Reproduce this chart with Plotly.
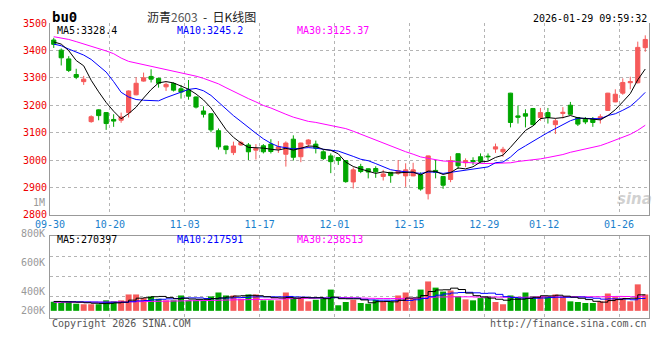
import plotly.graph_objects as go

# ---------------- data ----------------
tick_labels = ["09-30", "10-20", "11-03", "11-17", "12-01", "12-15", "12-29", "01-12", "01-26"]
tick_index = [0, 8, 18, 28, 38, 48, 58, 66, 76]
price_ticks = [2800, 2900, 3000, 3100, 3200, 3300, 3400, 3500]

opens = [3438, 3401, 3369, 3312, 3286, 3140, 3183, 3173, 3148, 3145,
         3173, 3238, 3288, 3305, 3298, 3267, 3279, 3260, 3256, 3230,
         3179, 3169, 3107, 3051, 3027, 3055, 3055, 3036, 3052, 3058,
         3040, 3021, 3076, 3012, 3058, 3058, 3030, 3015, 3009, 2998,
         2920, 2976, 2968, 2969, 2940, 2955, 2952, 2942, 2942, 2946,
         2877, 2962, 2940, 2929, 3023, 2990, 2998, 3012, 3014, 3040,
         3030, 3244, 3161, 3169, 3188, 3155, 3173, 3129, 3170, 3200,
         3155, 3149, 3149, 3150, 3181, 3212, 3244, 3282, 3282, 3410]
highs = [3446, 3407, 3379, 3333, 3307, 3163, 3185, 3175, 3167, 3173,
         3254, 3302, 3319, 3331, 3300, 3283, 3283, 3274, 3292, 3232,
         3196, 3170, 3115, 3052, 3067, 3070, 3062, 3058, 3058, 3076,
         3069, 3068, 3090, 3063, 3076, 3071, 3036, 3024, 3010, 2999,
         2973, 2986, 2969, 2977, 2964, 2956, 3000, 2988, 2990, 2955,
         3016, 3000, 2941, 3014, 3024, 3006, 3010, 3024, 3024, 3060,
         3048, 3245, 3199, 3185, 3190, 3190, 3190, 3152, 3193, 3212,
         3156, 3157, 3157, 3167, 3245, 3258, 3298, 3304, 3432, 3455]
lows = [3409, 3345, 3321, 3295, 3274, 3136, 3145, 3110, 3121, 3136,
        3155, 3236, 3286, 3283, 3264, 3252, 3250, 3224, 3220, 3188,
        3155, 3101, 3038, 3021, 3018, 3052, 3000, 3002, 3024, 3024,
        3026, 2976, 2998, 2992, 3045, 3024, 3000, 2952, 2982, 2917,
        2896, 2952, 2933, 2935, 2925, 2917, 2946, 2902, 2941, 2888,
        2856, 2933, 2895, 2919, 2967, 2974, 2982, 2988, 2998, 3026,
        3012, 3119, 3133, 3119, 3128, 3143, 3133, 3095, 3152, 3166,
        3124, 3131, 3121, 3133, 3179, 3211, 3238, 3258, 3279, 3395]
closes = [3422, 3373, 3327, 3302, 3295, 3158, 3162, 3133, 3142, 3157,
          3252, 3280, 3300, 3295, 3280, 3276, 3255, 3248, 3233, 3193,
          3167, 3110, 3048, 3038, 3051, 3064, 3030, 3042, 3030, 3031,
          3048, 3062, 3010, 3062, 3073, 3043, 3005, 2994, 2998, 2921,
          2964, 2958, 2956, 2957, 2949, 2943, 2961, 2964, 2964, 2894,
          3015, 2955, 2908, 2998, 2979, 2998, 2994, 2995, 3012, 3048,
          3039, 3137, 3156, 3160, 3129, 3173, 3155, 3143, 3174, 3167,
          3131, 3139, 3137, 3158, 3244, 3240, 3283, 3286, 3411, 3440]
volumes = [153000, 137000, 160000, 120000, 111000, 111000, 111000, 177000, 160000, 177000,
           276000, 276000, 215000, 243000, 203000, 177000, 177000, 259000, 177000, 177000,
           177000, 243000, 309000, 259000, 259000, 203000, 276000, 276000, 177000, 177000,
           177000, 309000, 226000, 226000, 160000, 186000, 226000, 358000, 94000, 149000,
           186000, 132000, 120000, 186000, 160000, 160000, 259000, 309000, 203000, 358000,
           495000, 391000, 325000, 342000, 243000, 193000, 177000, 215000, 243000, 149000,
           111000, 259000, 219000, 309000, 243000, 243000, 243000, 276000, 231000, 160000,
           149000, 132000, 132000, 160000, 292000, 231000, 219000, 160000, 446000, 276000]

# moving-average values before enough bars exist in the window
ma5_head = [3431, 3423, 3399, 3363]
ma10_head = [3423, 3417, 3405, 3393, 3383, 3367, 3345, 3321, 3286]
ma30_head = [3450, 3446, 3440, 3432, 3424, 3416, 3408, 3398, 3388, 3372,
             3360, 3354, 3349, 3344, 3338, 3332, 3326, 3320, 3313, 3306,
             3298, 3288, 3278, 3264, 3250, 3237, 3224, 3212, 3199]
vma5_head = [158000, 152000, 150000, 146000]
vma10_head = [155000, 154000, 153000, 152000, 150000, 148000, 146000, 145000, 145000]
vma30_head = [145000, 145000, 145000, 146000, 146000, 147000, 147000, 148000, 149000, 150000,
              152000, 155000, 158000, 160000, 162000, 164000, 166000, 168000, 170000, 172000,
              175000, 177000, 180000, 183000, 186000, 188000, 190000, 192000, 194000]


def moving_avg(vals, n, head):
    out = list(head)
    for i in range(len(head), len(vals)):
        out.append(sum(vals[i - n + 1:i + 1]) / n)
    return out


x = list(range(len(closes)))
ma5 = moving_avg(closes, 5, ma5_head)
ma10 = moving_avg(closes, 10, ma10_head)
ma30 = moving_avg(closes, 30, ma30_head)
vma5 = moving_avg(volumes, 5, vma5_head)
vma10 = moving_avg(volumes, 10, vma10_head)
vma30 = moving_avg(volumes, 30, vma30_head)

RED = "#f65a5a"
GREEN = "#00a600"
vol_colors = [RED if c >= o else GREEN for o, c in zip(opens, closes)]

MONO = "DejaVu Sans Mono"
GRID = "#b4b4b4"
BORDER = "#999999"

fig = go.Figure()
fig.add_trace(go.Candlestick(
    x=x, open=opens, high=highs, low=lows, close=closes,
    increasing=dict(line=dict(color=RED, width=1), fillcolor=RED),
    decreasing=dict(line=dict(color=GREEN, width=1), fillcolor=GREEN),
    xaxis="x", yaxis="y", hoverinfo="skip"))
for vals, col in [(ma30, "#ff00ff"), (ma10, "#0000ff"), (ma5, "#000000")]:
    fig.add_trace(go.Scatter(x=x, y=vals, mode="lines", line=dict(color=col, width=1),
                             xaxis="x", yaxis="y", hoverinfo="skip"))

fig.add_trace(go.Bar(x=x, y=volumes, marker=dict(color=vol_colors, line=dict(width=0)),
                     width=0.8, xaxis="x2", yaxis="y2", hoverinfo="skip"))
for vals, col in [(vma30, "#ff00ff"), (vma10, "#0000ff"), (vma5, "#000000")]:
    fig.add_trace(go.Scatter(x=x, y=vals, mode="lines", line=dict(color=col, width=1, shape="hv"),
                             xaxis="x2", yaxis="y2", hoverinfo="skip"))

tickpos = [i - 0.5 for i in tick_index]

# The page body has an 8px default margin; size the figure so the plot area
# lands at page pixels x 50..649, y 17..318.
BODY = 8
fig.update_layout(
    width=660 - BODY, height=360 - 2 * BODY,
    margin=dict(l=50 - BODY, r=11, t=17 - BODY, b=(360 - 2 * BODY) - (318 - BODY)),
    paper_bgcolor="white", plot_bgcolor="white",
    showlegend=False, hovermode=False,
    boxgap=0.2,
    xaxis=dict(domain=[0, 1], range=[-0.5, len(x) - 0.5], anchor="y",
               tickvals=tickpos, ticktext=tick_labels,
               tickfont=dict(family=MONO, size=10, color="#1a7fcc"),
               showgrid=True, gridcolor=GRID, griddash="dot", gridwidth=1,
               showline=True, linecolor=BORDER, linewidth=1, ticks="",
               zeroline=False, rangeslider=dict(visible=False), fixedrange=True),
    yaxis=dict(domain=[0.3498, 1], range=[2800, 3500], anchor="x",
               tickvals=price_ticks, ticktext=[str(v) for v in price_ticks],
               tickfont=dict(family=MONO, size=10, color="#ee0000"),
               showgrid=True, gridcolor=GRID, griddash="dot", gridwidth=1,
               showline=True, mirror=True, linecolor=BORDER, linewidth=1,
               ticks="", zeroline=False, fixedrange=True),
    xaxis2=dict(domain=[0, 1], range=[-0.5, len(x) - 0.5], anchor="y2",
                tickvals=tickpos, showticklabels=False,
                showgrid=True, gridcolor=GRID, griddash="dot", gridwidth=1,
                showline=True, mirror=True, linecolor=BORDER, linewidth=1,
                ticks="", zeroline=False, fixedrange=True),
    yaxis2=dict(domain=[0, 0.2767], range=[-120500, 1254000], anchor="x2",
                tickvals=[247500, 577500, 907500], showticklabels=False,
                showgrid=True, gridcolor=GRID, griddash="dot", gridwidth=1,
                showline=True, mirror=True, linecolor=BORDER, linewidth=1,
                ticks="", zeroline=False, fixedrange=True),
)


def px(xp):
    return (xp - 50) / 599.0


def py(yp):
    return (318 - yp) / 301.0


ann = []


def add(text, xp, yp, anchor="left", color="#000", size=10, family=MONO):
    ann.append(dict(text=text, x=px(xp), y=py(yp), xref="paper", yref="paper",
                    xanchor=anchor, yanchor="middle", showarrow=False,
                    font=dict(family=family, size=size, color=color)))


add("<b>bu0</b>", 50, 10.5, size=14)
add("沥青<span style='color:#555'>2603</span>&nbsp; -&nbsp; 日K线图", 201, 10.5, anchor="center",
    color="#222", size=12, family="Noto Sans CJK SC")
add("2026-01-29 09:59:32", 649, 12, anchor="right")
add("MA5:3328.4", 55, 24.5, color="#000000")
add("MA10:3245.2", 175, 24.5, color="#0000ff")
add("MA30:3125.37", 295, 24.5, color="#ff00ff")
add("MA5:270397", 55, 237.5, color="#000000")
add("MA10:217591", 175, 237.5, color="#0000ff")
add("MA30:238513", 295, 237.5, color="#ff00ff")
for lab, yp in [("1M", 200), ("800K", 232), ("600K", 261.7), ("400K", 291), ("200K", 310.7)]:
    add(lab, 47, yp, anchor="right", color="#999999")
add("Copyright 2026 SINA.COM", 50, 323.5, color="#555555")
add("http://finance.sina.com.cn", 649, 324, anchor="right", color="#555555")
add("<b><i>sina</i></b>", 634, 197, anchor="center", color="rgba(170,170,170,0.55)",
    size=15, family="DejaVu Sans")

fig.update_layout(annotations=ann)
fig.write_html("out.html")
